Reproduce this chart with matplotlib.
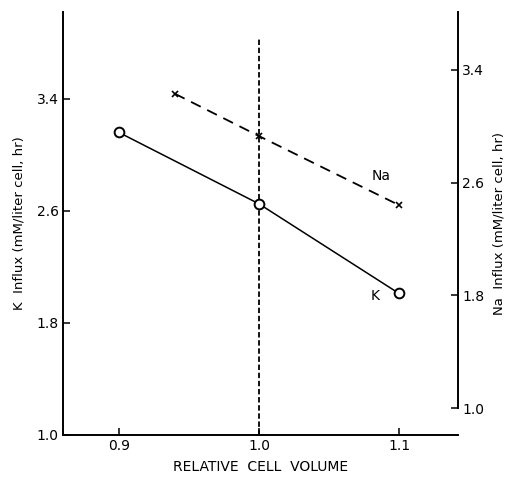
import matplotlib
matplotlib.use("Agg")
import matplotlib.pyplot as plt

# Data
k_volume = [0.9, 1.0, 1.1]
k_influx = [3.16, 2.65, 2.01]
na_volume = [0.94, 1.0, 1.1]
na_influx = [3.23, 2.93, 2.44]
x_ticks = [0.9, 1.0, 1.1]
x_tick_labels = ["0.9", "1.0", "1.1"]
y_ticks = [1.0, 1.8, 2.6, 3.4]
y_tick_labels = ["1.0", "1.8", "2.6", "3.4"]

plt.rcParams['font.family'] = ['DejaVu Sans']
fig = plt.figure(figsize=(5.11, 4.8), dpi=100)
ax = fig.add_axes([0.123, 0.094, 0.773, 0.881])
ax2 = ax.twinx()

ax.set_xlim(0.86, 1.142)
ax.set_ylim(1.0, 4.02)
ax2.set_ylim(0.81, 3.81)

# reference line
ax.plot([1.0, 1.0], [1.0, 3.84], color='black', lw=1.3, ls=(0, (3, 1.5)), zorder=1)

# K series
ax.plot(k_volume, k_influx, color='black', lw=1.1, marker='o', ms=7,
        mfc='white', mec='black', mew=1.4, zorder=3)
# Na series
ax2.plot(na_volume, na_influx, color='black', lw=1.3, ls=(0, (6, 4)), zorder=2)
ax2.plot(na_volume, na_influx, ls='none', marker='x', ms=5, mec='black', mew=1.2, zorder=3)

ax.text(1.083, 1.99, "K", fontsize=10, ha='center', va='center')
ax.text(1.087, 2.85, "Na", fontsize=10, ha='center', va='center')

ax.spines['top'].set_visible(False)
ax2.spines['top'].set_visible(False)
ax.spines['right'].set_visible(False)
ax2.spines['left'].set_visible(False)
ax2.spines['bottom'].set_visible(False)
ax2.spines['right'].set_bounds(1.0, 3.81)
for sp in [ax.spines['left'], ax.spines['bottom'], ax2.spines['right']]:
    sp.set_linewidth(1.4)

ax.set_xticks(x_ticks)
ax.set_xticklabels(x_tick_labels)
ax.set_yticks(y_ticks)
ax.set_yticklabels(y_tick_labels)
ax2.set_yticks(y_ticks)
ax2.set_yticklabels(y_tick_labels)
ax.tick_params(axis='both', direction='in', length=5, width=1.1, labelsize=10, pad=3)
ax2.tick_params(axis='y', direction='in', length=5, width=1.1, labelsize=10, pad=3)

ax.set_xlabel("RELATIVE  CELL  VOLUME", fontsize=10, labelpad=5)
ax.set_ylabel("K  Influx (mM/liter cell, hr)", fontsize=9.5, labelpad=8)
ax2.set_ylabel("Na  Influx (mM/liter cell, hr)", fontsize=9.5, labelpad=6)

fig.savefig("out.png", dpi=100)
